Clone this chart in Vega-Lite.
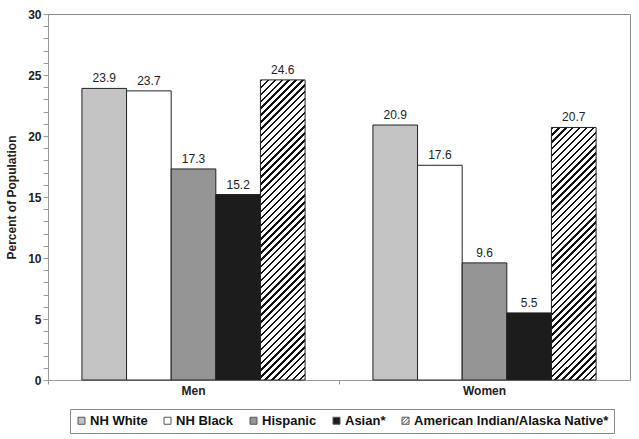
{
  "$schema": "https://vega.github.io/schema/vega-lite/v6.json",
  "width": 582,
  "height": 366,
  "autosize": {"type": "none"},
  "padding": {"left": 48, "top": 14, "right": 9, "bottom": 59},
  "background": "white",
  "config": {
    "font": "Liberation Sans",
    "view": {"stroke": "#8a8a8a", "strokeWidth": 1}
  },
  "data": {
    "values": [
      {"sex": "Men", "race": "NH White", "percent": 23.9},
      {"sex": "Men", "race": "NH Black", "percent": 23.7},
      {"sex": "Men", "race": "Hispanic", "percent": 17.3},
      {"sex": "Men", "race": "Asian*", "percent": 15.2},
      {"sex": "Men", "race": "American Indian/Alaska Native*", "percent": 24.6},
      {"sex": "Women", "race": "NH White", "percent": 20.9},
      {"sex": "Women", "race": "NH Black", "percent": 17.6},
      {"sex": "Women", "race": "Hispanic", "percent": 9.6},
      {"sex": "Women", "race": "Asian*", "percent": 5.5},
      {"sex": "Women", "race": "American Indian/Alaska Native*", "percent": 20.7}
    ]
  },
  "encoding": {
    "x": {
      "field": "sex", "type": "nominal", "sort": ["Men", "Women"],
      "scale": {"paddingInner": 0, "paddingOuter": 0},
      "axis": {
        "title": null, "labelAngle": 0, "labelFontSize": 12, "labelFontWeight": "bold",
        "labelColor": "#222", "labelPadding": 1, "domainColor": "#999", "tickColor": "#999",
        "tickSize": 4, "bandPosition": 0
      }
    },
    "xOffset": {
      "field": "race", "type": "nominal",
      "sort": ["NH White", "NH Black", "Hispanic", "Asian*", "American Indian/Alaska Native*"],
      "scale": {"paddingInner": 0, "paddingOuter": 0.76}
    },
    "y": {
      "field": "percent", "type": "quantitative",
      "scale": {"domain": [0, 30], "nice": false},
      "axis": {
        "title": "Percent of Population", "titleFontSize": 12, "titleFontWeight": "bold",
        "titleColor": "#222", "titlePadding": 9,
        "values": [0,1,2,3,4,5,6,7,8,9,10,11,12,13,14,15,16,17,18,19,20,21,22,23,24,25,26,27,28,29,30],
        "labelExpr": "datum.value % 5 === 0 ? datum.label : ''",
        "labelFontSize": 12, "labelFontWeight": "bold", "labelColor": "#222", "labelPadding": 2,
        "domainColor": "#999", "tickColor": "#999", "tickSize": 5, "grid": false,
        "encode": {"ticks": {"update": {"x2": {"signal": "datum.value % 5 === 0 ? -5 : -3"}}}}
      }
    }
  },
  "layer": [
    {
      "mark": {"type": "bar", "stroke": "#222", "strokeWidth": 1},
      "encoding": {
        "fill": {
          "field": "race", "type": "nominal",
          "scale": {
            "domain": ["NH White", "NH Black", "Hispanic", "Asian*", "American Indian/Alaska Native*"],
            "range": ["#c3c3c3", "#ffffff", "#959595", "#1c1c1c", "#ffffff"]
          },
          "condition": [
            {"test": "datum.race === 'American Indian/Alaska Native*' && datum.sex === 'Men'",
             "value": {"gradient": "linear", "x1": 0, "y1": 0, "x2": 0.16713, "y2": 1.12385, "stops": [
{"offset":0,"color":"#111"},
{"offset":0.007,"color":"#111"},{"offset":0.007,"color":"#fff"},{"offset":0.02,"color":"#fff"},{"offset":0.02,"color":"#111"},
{"offset":0.027,"color":"#111"},{"offset":0.027,"color":"#fff"},{"offset":0.04,"color":"#fff"},{"offset":0.04,"color":"#111"},
{"offset":0.047,"color":"#111"},{"offset":0.047,"color":"#fff"},{"offset":0.06,"color":"#fff"},{"offset":0.06,"color":"#111"},
{"offset":0.067,"color":"#111"},{"offset":0.067,"color":"#fff"},{"offset":0.08,"color":"#fff"},{"offset":0.08,"color":"#111"},
{"offset":0.087,"color":"#111"},{"offset":0.087,"color":"#fff"},{"offset":0.1,"color":"#fff"},{"offset":0.1,"color":"#111"},
{"offset":0.107,"color":"#111"},{"offset":0.107,"color":"#fff"},{"offset":0.12,"color":"#fff"},{"offset":0.12,"color":"#111"},
{"offset":0.127,"color":"#111"},{"offset":0.127,"color":"#fff"},{"offset":0.14,"color":"#fff"},{"offset":0.14,"color":"#111"},
{"offset":0.147,"color":"#111"},{"offset":0.147,"color":"#fff"},{"offset":0.16,"color":"#fff"},{"offset":0.16,"color":"#111"},
{"offset":0.167,"color":"#111"},{"offset":0.167,"color":"#fff"},{"offset":0.18,"color":"#fff"},{"offset":0.18,"color":"#111"},
{"offset":0.187,"color":"#111"},{"offset":0.187,"color":"#fff"},{"offset":0.2,"color":"#fff"},{"offset":0.2,"color":"#111"},
{"offset":0.207,"color":"#111"},{"offset":0.207,"color":"#fff"},{"offset":0.22,"color":"#fff"},{"offset":0.22,"color":"#111"},
{"offset":0.227,"color":"#111"},{"offset":0.227,"color":"#fff"},{"offset":0.24,"color":"#fff"},{"offset":0.24,"color":"#111"},
{"offset":0.247,"color":"#111"},{"offset":0.247,"color":"#fff"},{"offset":0.26,"color":"#fff"},{"offset":0.26,"color":"#111"},
{"offset":0.267,"color":"#111"},{"offset":0.267,"color":"#fff"},{"offset":0.28,"color":"#fff"},{"offset":0.28,"color":"#111"},
{"offset":0.287,"color":"#111"},{"offset":0.287,"color":"#fff"},{"offset":0.3,"color":"#fff"},{"offset":0.3,"color":"#111"},
{"offset":0.307,"color":"#111"},{"offset":0.307,"color":"#fff"},{"offset":0.32,"color":"#fff"},{"offset":0.32,"color":"#111"},
{"offset":0.327,"color":"#111"},{"offset":0.327,"color":"#fff"},{"offset":0.34,"color":"#fff"},{"offset":0.34,"color":"#111"},
{"offset":0.347,"color":"#111"},{"offset":0.347,"color":"#fff"},{"offset":0.36,"color":"#fff"},{"offset":0.36,"color":"#111"},
{"offset":0.367,"color":"#111"},{"offset":0.367,"color":"#fff"},{"offset":0.38,"color":"#fff"},{"offset":0.38,"color":"#111"},
{"offset":0.387,"color":"#111"},{"offset":0.387,"color":"#fff"},{"offset":0.4,"color":"#fff"},{"offset":0.4,"color":"#111"},
{"offset":0.407,"color":"#111"},{"offset":0.407,"color":"#fff"},{"offset":0.42,"color":"#fff"},{"offset":0.42,"color":"#111"},
{"offset":0.427,"color":"#111"},{"offset":0.427,"color":"#fff"},{"offset":0.44,"color":"#fff"},{"offset":0.44,"color":"#111"},
{"offset":0.447,"color":"#111"},{"offset":0.447,"color":"#fff"},{"offset":0.46,"color":"#fff"},{"offset":0.46,"color":"#111"},
{"offset":0.467,"color":"#111"},{"offset":0.467,"color":"#fff"},{"offset":0.48,"color":"#fff"},{"offset":0.48,"color":"#111"},
{"offset":0.487,"color":"#111"},{"offset":0.487,"color":"#fff"},{"offset":0.5,"color":"#fff"},{"offset":0.5,"color":"#111"},
{"offset":0.507,"color":"#111"},{"offset":0.507,"color":"#fff"},{"offset":0.52,"color":"#fff"},{"offset":0.52,"color":"#111"},
{"offset":0.527,"color":"#111"},{"offset":0.527,"color":"#fff"},{"offset":0.54,"color":"#fff"},{"offset":0.54,"color":"#111"},
{"offset":0.547,"color":"#111"},{"offset":0.547,"color":"#fff"},{"offset":0.56,"color":"#fff"},{"offset":0.56,"color":"#111"},
{"offset":0.567,"color":"#111"},{"offset":0.567,"color":"#fff"},{"offset":0.58,"color":"#fff"},{"offset":0.58,"color":"#111"},
{"offset":0.587,"color":"#111"},{"offset":0.587,"color":"#fff"},{"offset":0.6,"color":"#fff"},{"offset":0.6,"color":"#111"},
{"offset":0.607,"color":"#111"},{"offset":0.607,"color":"#fff"},{"offset":0.62,"color":"#fff"},{"offset":0.62,"color":"#111"},
{"offset":0.627,"color":"#111"},{"offset":0.627,"color":"#fff"},{"offset":0.64,"color":"#fff"},{"offset":0.64,"color":"#111"},
{"offset":0.647,"color":"#111"},{"offset":0.647,"color":"#fff"},{"offset":0.66,"color":"#fff"},{"offset":0.66,"color":"#111"},
{"offset":0.667,"color":"#111"},{"offset":0.667,"color":"#fff"},{"offset":0.68,"color":"#fff"},{"offset":0.68,"color":"#111"},
{"offset":0.687,"color":"#111"},{"offset":0.687,"color":"#fff"},{"offset":0.7,"color":"#fff"},{"offset":0.7,"color":"#111"},
{"offset":0.707,"color":"#111"},{"offset":0.707,"color":"#fff"},{"offset":0.72,"color":"#fff"},{"offset":0.72,"color":"#111"},
{"offset":0.727,"color":"#111"},{"offset":0.727,"color":"#fff"},{"offset":0.74,"color":"#fff"},{"offset":0.74,"color":"#111"},
{"offset":0.747,"color":"#111"},{"offset":0.747,"color":"#fff"},{"offset":0.76,"color":"#fff"},{"offset":0.76,"color":"#111"},
{"offset":0.767,"color":"#111"},{"offset":0.767,"color":"#fff"},{"offset":0.78,"color":"#fff"},{"offset":0.78,"color":"#111"},
{"offset":0.787,"color":"#111"},{"offset":0.787,"color":"#fff"},{"offset":0.8,"color":"#fff"},{"offset":0.8,"color":"#111"},
{"offset":0.807,"color":"#111"},{"offset":0.807,"color":"#fff"},{"offset":0.82,"color":"#fff"},{"offset":0.82,"color":"#111"},
{"offset":0.827,"color":"#111"},{"offset":0.827,"color":"#fff"},{"offset":0.84,"color":"#fff"},{"offset":0.84,"color":"#111"},
{"offset":0.847,"color":"#111"},{"offset":0.847,"color":"#fff"},{"offset":0.86,"color":"#fff"},{"offset":0.86,"color":"#111"},
{"offset":0.867,"color":"#111"},{"offset":0.867,"color":"#fff"},{"offset":0.88,"color":"#fff"},{"offset":0.88,"color":"#111"},
{"offset":0.887,"color":"#111"},{"offset":0.887,"color":"#fff"},{"offset":0.9,"color":"#fff"},{"offset":0.9,"color":"#111"},
{"offset":0.907,"color":"#111"},{"offset":0.907,"color":"#fff"},{"offset":0.92,"color":"#fff"},{"offset":0.92,"color":"#111"},
{"offset":0.927,"color":"#111"},{"offset":0.927,"color":"#fff"},{"offset":0.94,"color":"#fff"},{"offset":0.94,"color":"#111"},
{"offset":0.947,"color":"#111"},{"offset":0.947,"color":"#fff"},{"offset":0.96,"color":"#fff"},{"offset":0.96,"color":"#111"},
{"offset":0.967,"color":"#111"},{"offset":0.967,"color":"#fff"},{"offset":0.98,"color":"#fff"},{"offset":0.98,"color":"#111"},
{"offset":0.987,"color":"#111"},{"offset":0.987,"color":"#fff"},{"offset":1,"color":"#fff"}
             ]}},
            {"test": "datum.race === 'American Indian/Alaska Native*' && datum.sex === 'Women'",
             "value": {"gradient": "linear", "x1": 0, "y1": 0, "x2": 0.20166, "y2": 1.14109, "stops": [
{"offset":0,"color":"#111"},
{"offset":0.008,"color":"#111"},{"offset":0.008,"color":"#fff"},{"offset":0.0232,"color":"#fff"},{"offset":0.0232,"color":"#111"},
{"offset":0.0312,"color":"#111"},{"offset":0.0312,"color":"#fff"},{"offset":0.0464,"color":"#fff"},{"offset":0.0464,"color":"#111"},
{"offset":0.0544,"color":"#111"},{"offset":0.0544,"color":"#fff"},{"offset":0.0696,"color":"#fff"},{"offset":0.0696,"color":"#111"},
{"offset":0.0776,"color":"#111"},{"offset":0.0776,"color":"#fff"},{"offset":0.0928,"color":"#fff"},{"offset":0.0928,"color":"#111"},
{"offset":0.1008,"color":"#111"},{"offset":0.1008,"color":"#fff"},{"offset":0.116,"color":"#fff"},{"offset":0.116,"color":"#111"},
{"offset":0.124,"color":"#111"},{"offset":0.124,"color":"#fff"},{"offset":0.1392,"color":"#fff"},{"offset":0.1392,"color":"#111"},
{"offset":0.1472,"color":"#111"},{"offset":0.1472,"color":"#fff"},{"offset":0.1624,"color":"#fff"},{"offset":0.1624,"color":"#111"},
{"offset":0.1704,"color":"#111"},{"offset":0.1704,"color":"#fff"},{"offset":0.1856,"color":"#fff"},{"offset":0.1856,"color":"#111"},
{"offset":0.1936,"color":"#111"},{"offset":0.1936,"color":"#fff"},{"offset":0.2088,"color":"#fff"},{"offset":0.2088,"color":"#111"},
{"offset":0.2168,"color":"#111"},{"offset":0.2168,"color":"#fff"},{"offset":0.232,"color":"#fff"},{"offset":0.232,"color":"#111"},
{"offset":0.24,"color":"#111"},{"offset":0.24,"color":"#fff"},{"offset":0.2552,"color":"#fff"},{"offset":0.2552,"color":"#111"},
{"offset":0.2632,"color":"#111"},{"offset":0.2632,"color":"#fff"},{"offset":0.2784,"color":"#fff"},{"offset":0.2784,"color":"#111"},
{"offset":0.2864,"color":"#111"},{"offset":0.2864,"color":"#fff"},{"offset":0.3016,"color":"#fff"},{"offset":0.3016,"color":"#111"},
{"offset":0.3096,"color":"#111"},{"offset":0.3096,"color":"#fff"},{"offset":0.3248,"color":"#fff"},{"offset":0.3248,"color":"#111"},
{"offset":0.3328,"color":"#111"},{"offset":0.3328,"color":"#fff"},{"offset":0.348,"color":"#fff"},{"offset":0.348,"color":"#111"},
{"offset":0.356,"color":"#111"},{"offset":0.356,"color":"#fff"},{"offset":0.3712,"color":"#fff"},{"offset":0.3712,"color":"#111"},
{"offset":0.3792,"color":"#111"},{"offset":0.3792,"color":"#fff"},{"offset":0.3944,"color":"#fff"},{"offset":0.3944,"color":"#111"},
{"offset":0.4024,"color":"#111"},{"offset":0.4024,"color":"#fff"},{"offset":0.4176,"color":"#fff"},{"offset":0.4176,"color":"#111"},
{"offset":0.4256,"color":"#111"},{"offset":0.4256,"color":"#fff"},{"offset":0.4408,"color":"#fff"},{"offset":0.4408,"color":"#111"},
{"offset":0.4488,"color":"#111"},{"offset":0.4488,"color":"#fff"},{"offset":0.464,"color":"#fff"},{"offset":0.464,"color":"#111"},
{"offset":0.472,"color":"#111"},{"offset":0.472,"color":"#fff"},{"offset":0.4872,"color":"#fff"},{"offset":0.4872,"color":"#111"},
{"offset":0.4952,"color":"#111"},{"offset":0.4952,"color":"#fff"},{"offset":0.5104,"color":"#fff"},{"offset":0.5104,"color":"#111"},
{"offset":0.5184,"color":"#111"},{"offset":0.5184,"color":"#fff"},{"offset":0.5336,"color":"#fff"},{"offset":0.5336,"color":"#111"},
{"offset":0.5416,"color":"#111"},{"offset":0.5416,"color":"#fff"},{"offset":0.5568,"color":"#fff"},{"offset":0.5568,"color":"#111"},
{"offset":0.5648,"color":"#111"},{"offset":0.5648,"color":"#fff"},{"offset":0.58,"color":"#fff"},{"offset":0.58,"color":"#111"},
{"offset":0.588,"color":"#111"},{"offset":0.588,"color":"#fff"},{"offset":0.6032,"color":"#fff"},{"offset":0.6032,"color":"#111"},
{"offset":0.6112,"color":"#111"},{"offset":0.6112,"color":"#fff"},{"offset":0.6264,"color":"#fff"},{"offset":0.6264,"color":"#111"},
{"offset":0.6344,"color":"#111"},{"offset":0.6344,"color":"#fff"},{"offset":0.6496,"color":"#fff"},{"offset":0.6496,"color":"#111"},
{"offset":0.6576,"color":"#111"},{"offset":0.6576,"color":"#fff"},{"offset":0.6728,"color":"#fff"},{"offset":0.6728,"color":"#111"},
{"offset":0.6808,"color":"#111"},{"offset":0.6808,"color":"#fff"},{"offset":0.696,"color":"#fff"},{"offset":0.696,"color":"#111"},
{"offset":0.704,"color":"#111"},{"offset":0.704,"color":"#fff"},{"offset":0.7192,"color":"#fff"},{"offset":0.7192,"color":"#111"},
{"offset":0.7272,"color":"#111"},{"offset":0.7272,"color":"#fff"},{"offset":0.7424,"color":"#fff"},{"offset":0.7424,"color":"#111"},
{"offset":0.7504,"color":"#111"},{"offset":0.7504,"color":"#fff"},{"offset":0.7656,"color":"#fff"},{"offset":0.7656,"color":"#111"},
{"offset":0.7736,"color":"#111"},{"offset":0.7736,"color":"#fff"},{"offset":0.7888,"color":"#fff"},{"offset":0.7888,"color":"#111"},
{"offset":0.7968,"color":"#111"},{"offset":0.7968,"color":"#fff"},{"offset":0.812,"color":"#fff"},{"offset":0.812,"color":"#111"},
{"offset":0.82,"color":"#111"},{"offset":0.82,"color":"#fff"},{"offset":0.8352,"color":"#fff"},{"offset":0.8352,"color":"#111"},
{"offset":0.8432,"color":"#111"},{"offset":0.8432,"color":"#fff"},{"offset":0.8584,"color":"#fff"},{"offset":0.8584,"color":"#111"},
{"offset":0.8664,"color":"#111"},{"offset":0.8664,"color":"#fff"},{"offset":0.8816,"color":"#fff"},{"offset":0.8816,"color":"#111"},
{"offset":0.8896,"color":"#111"},{"offset":0.8896,"color":"#fff"},{"offset":0.9048,"color":"#fff"},{"offset":0.9048,"color":"#111"},
{"offset":0.9128,"color":"#111"},{"offset":0.9128,"color":"#fff"},{"offset":0.928,"color":"#fff"},{"offset":0.928,"color":"#111"},
{"offset":0.936,"color":"#111"},{"offset":0.936,"color":"#fff"},{"offset":0.9512,"color":"#fff"},{"offset":0.9512,"color":"#111"},
{"offset":0.9592,"color":"#111"},{"offset":0.9592,"color":"#fff"},{"offset":0.9744,"color":"#fff"},{"offset":0.9744,"color":"#111"},
{"offset":0.9824,"color":"#111"},{"offset":0.9824,"color":"#fff"},{"offset":0.9976,"color":"#fff"},{"offset":0.9976,"color":"#111"},
{"offset":1,"color":"#111"}
             ]}}
          ],
          "legend": {
            "orient": "none", "legendX": 22, "legendY": 395, "direction": "horizontal",
            "title": null, "symbolType": "square", "symbolSize": 49,
            "symbolStrokeColor": "#555", "symbolStrokeWidth": 1,
            "labelFontSize": 13, "labelFontWeight": "bold", "labelColor": "#111", "labelLimit": 400,
            "labelOffset": 2, "columnPadding": 13, "padding": 5,
            "strokeColor": "#888", "fillColor": "white",
            "encode": {"symbols": {"update": {
              "stroke": {"value": "#555"},
              "strokeWidth": {"value": 1},
              "shape": {"signal": "datum.value === 'American Indian/Alaska Native*' ? 'M-1,-1H1V1H-1Z M-1,0L0,-1 M-1,1L1,-1 M0,1L1,0' : 'square'"}
            }}}
          }
        }
      }
    },
    {
      "mark": {"type": "text", "baseline": "alphabetic", "dy": -6, "fontSize": 12, "color": "#222"},
      "encoding": {
        "text": {"field": "percent", "type": "quantitative", "format": ".1f"}
      }
    }
  ]
}
